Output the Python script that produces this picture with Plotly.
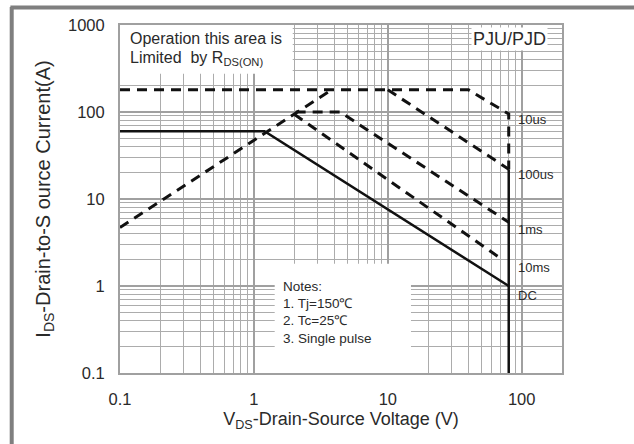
import math
import plotly.graph_objects as go

# ---- data ----
# Safe operating area curves: drain-source voltage (V) vs drain current (A)
rds_v = [0.1, 3.8]
rds_i = [4.7, 180]

us10_v = [0.1, 40, 80, 80]
us10_i = [180, 180, 95, 22]

us100_v = [10, 80]
us100_i = [180, 22]

ms1_v = [2.05, 4.4, 80]
ms1_i = [100, 100, 5.4]

ms10_v = [2.0, 66]
ms10_i = [94, 2.2]

dc_v = [0.1, 1.2, 80]
dc_i = [60, 60, 1]

bv_v = [80, 80]
bv_i = [22, 0.1]

curve_labels = ["10us", "100us", "1ms", "10ms", "DC"]
curve_label_i = [81, 19, 4.5, 1.65, 0.77]

x_ticks = [0.1, 1, 10, 100]
x_ticktext = ["0.1", "1", "10", "100"]
y_ticks = [0.1, 1, 10, 100, 1000]
y_ticktext = ["0.1", "1", "10", "100", "1000"]

notes = ["Notes:", "1. Tj=150\u2103", "2. Tc=25\u2103", "3. Single pulse"]

FONT = "Liberation Sans, Arial, sans-serif"
TXT = "#2a2a2a"

fig = go.Figure()

dash_style = dict(color="#111111", width=3, dash="10px,7px")
for xs, ys in [(rds_v, rds_i), (us10_v, us10_i), (us100_v, us100_i),
               (ms1_v, ms1_i), (ms10_v, ms10_i)]:
    fig.add_trace(go.Scatter(x=xs, y=ys, mode="lines", line=dash_style,
                             showlegend=False, hoverinfo="skip"))

for xs, ys in [(dc_v, dc_i), (bv_v, bv_i)]:
    fig.add_trace(go.Scatter(x=xs, y=ys, mode="lines",
                             line=dict(color="#111111", width=2.5),
                             showlegend=False, hoverinfo="skip"))

# white boxes hiding the grid behind the text blocks
fig.add_shape(type="rect", xref="x", yref="y", x0=0.1, x1=1.95, y0=275, y1=1000,
              fillcolor="white", line=dict(width=0), layer="between")
fig.add_shape(type="rect", xref="x", yref="y", x0=1.43, x1=14.9, y0=0.1, y1=1.8,
              fillcolor="white", line=dict(width=0), layer="between")

# outer grey frame (top and left only)
fig.add_shape(type="line", xref="paper", yref="paper",
              x0=-0.248, x1=1.2, y0=1.05, y1=1.05,
              line=dict(color="#7f7f7f", width=4))
fig.add_shape(type="line", xref="paper", yref="paper",
              x0=-0.245, x1=-0.245, y0=-0.3, y1=1.052,
              line=dict(color="#7f7f7f", width=4))

fig.add_annotation(x=-0.94, y=2.84, xref="x", yref="y", xanchor="left", yanchor="middle",
                   text="Operation this area is", showarrow=False,
                   font=dict(family=FONT, size=16, color=TXT))
fig.add_annotation(x=-0.94, y=2.62, xref="x", yref="y", xanchor="left", yanchor="middle",
                   text="Limited  by R<sub>DS(ON)</sub>", showarrow=False,
                   font=dict(family=FONT, size=16, color=TXT))
fig.add_annotation(x=2.2, y=2.84, xref="x", yref="y", xanchor="right", yanchor="middle",
                   text="PJU/PJD", showarrow=False, bgcolor="white",
                   font=dict(family=FONT, size=18, color=TXT))

for lab, iv in zip(curve_labels, curve_label_i):
    fig.add_annotation(x=math.log10(90), y=math.log10(iv), xref="x", yref="y",
                       xanchor="left", yanchor="middle", text=lab, showarrow=False,
                       font=dict(family=FONT, size=13, color=TXT))

for k, line in enumerate(notes):
    fig.add_annotation(x=math.log10(1.6), y=0.0 - k * 0.2, xref="x", yref="y",
                       xanchor="left", yanchor="middle", text=line, showarrow=False,
                       font=dict(family=FONT, size=13.5, color=TXT))

axis_common = dict(
    type="log",
    showgrid=True, gridcolor="#a0a0a0", gridwidth=2,
    showline=True, linecolor="#a0a0a0", linewidth=2, mirror=True,
    ticks="", zeroline=False,
    tickfont=dict(family=FONT, size=16.5, color=TXT),
    minor=dict(showgrid=True, gridcolor="#acacac", gridwidth=1, dtick="D1", ticks=""),
)

fig.update_xaxes(range=[-1, math.log10(200)], tickvals=x_ticks, ticktext=x_ticktext,
                 ticklabelstandoff=10,
                 title=dict(text="V<sub>DS</sub>-Drain-Source Voltage (V)",
                            font=dict(family=FONT, size=18, color=TXT), standoff=6),
                 **axis_common)
fig.update_yaxes(range=[-1, 3], tickvals=y_ticks, ticktext=y_ticktext,
                 ticklabelstandoff=10,
                 title=dict(text="I<sub>DS</sub>-Drain-to-S ource Current(A)",
                            font=dict(family=FONT, size=20, color=TXT), standoff=12),
                 **axis_common)

fig.update_layout(
    width=634, height=444,
    margin=dict(l=120, r=72, t=25, b=71),
    paper_bgcolor="white", plot_bgcolor="white",
    showlegend=False,
)

fig.write_html("out.html")
